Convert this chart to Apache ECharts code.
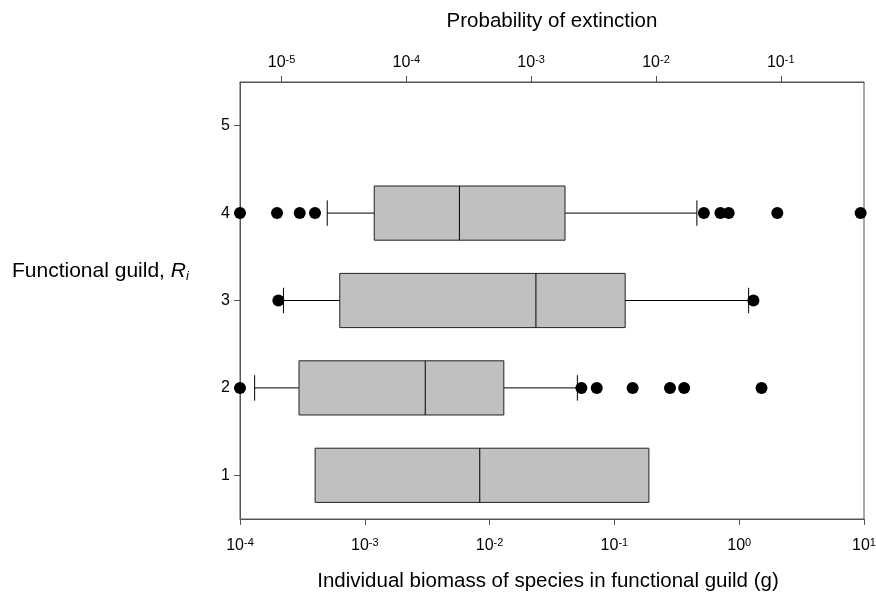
<!DOCTYPE html>
<html>
<head>
<meta charset="utf-8">
<script src="https://cdn.jsdelivr.net/npm/echarts@6/dist/echarts.min.js"></script>
<style>
  html, body { margin: 0; padding: 0; background: #fff; }
  #chart { width: 876px; height: 592px; }
</style>
</head>
<body>
<div id="chart"></div>
<script>
// guild categories on the y axis (bottom to top)
const guilds = ['1', '2', '3', '4', '5'];

// box statistics per guild (guild 5 has no data), biomass in g
const boxGuild    = [0, 1, 2, 3];
const whiskerLow  = [4.0e-4, 1.31e-4, 2.23e-4, 5.0e-4];
const quart1      = [4.0e-4, 2.97e-4, 6.3e-4, 1.19e-3];
const medians     = [8.34e-3, 3.05e-3, 0.0235, 5.73e-3];
const quart3      = [0.189, 0.0130, 0.122, 0.0402];
const whiskerHigh = [0.189, 0.0505, 1.19, 0.458];

// outliers per guild
const outliers2 = [1.0e-4, 0.0544, 0.0722, 0.140, 0.279, 0.362, 1.51];
const outliers3 = [2.03e-4, 1.30];
const outliers4 = [1.0e-4, 1.98e-4, 3.01e-4, 3.99e-4, 0.521, 0.707, 0.824, 2.02, 9.4];

// axis ticks
const biomassTicks = [1e-4, 1e-3, 1e-2, 1e-1, 1, 10];
const probTicks = [1e-5, 1e-4, 1e-3, 1e-2, 1e-1];
const probMin = 4.645e-6;
const probMax = 0.4645;

const FONT = 'Liberation Sans, Arial, sans-serif';
const LINE = '#555';

const boxData = boxGuild.map((g, i) => [g, whiskerLow[i], quart1[i], medians[i], quart3[i], whiskerHigh[i]]);
const outlierData = [];
outliers2.forEach(v => outlierData.push([v, 1]));
outliers3.forEach(v => outlierData.push([v, 2]));
outliers4.forEach(v => outlierData.push([v, 3]));

function powLabel(v) {
    const e = Math.round(Math.log10(v));
    return '{b|10}{s|' + e + '}';
}
const powRich = {
    b: { fontSize: 16, fontFamily: FONT, color: '#000', lineHeight: 18 },
    s: { fontSize: 11, fontFamily: FONT, color: '#000', lineHeight: 11, verticalAlign: 'top' }
};

function renderBox(params, api) {
    const cat = api.value(0);
    const lo = api.value(1), q1 = api.value(2), md = api.value(3), q3 = api.value(4), hi = api.value(5);
    const pLo = api.coord([lo, cat]);
    const pQ1 = api.coord([q1, cat]);
    const pMd = api.coord([md, cat]);
    const pQ3 = api.coord([q3, cat]);
    const pHi = api.coord([hi, cat]);
    const band = Math.abs(api.coord([q1, 0])[1] - api.coord([q1, 1])[1]);
    const bh = band * 0.62;
    const ch = bh * 0.47;
    const y = pQ1[1];
    const lineStyle = { stroke: '#000', lineWidth: 1 };
    const children = [];
    if (pLo[0] < pQ1[0]) {
        children.push({ type: 'line', shape: { x1: pLo[0], y1: y, x2: pQ1[0], y2: y }, style: lineStyle });
        children.push({ type: 'line', shape: { x1: pLo[0], y1: y - ch / 2, x2: pLo[0], y2: y + ch / 2 }, style: lineStyle });
    }
    if (pHi[0] > pQ3[0]) {
        children.push({ type: 'line', shape: { x1: pQ3[0], y1: y, x2: pHi[0], y2: y }, style: lineStyle });
        children.push({ type: 'line', shape: { x1: pHi[0], y1: y - ch / 2, x2: pHi[0], y2: y + ch / 2 }, style: lineStyle });
    }
    children.push({
        type: 'rect',
        shape: { x: pQ1[0], y: y - bh / 2, width: pQ3[0] - pQ1[0], height: bh },
        style: { fill: '#c0c0c0', stroke: '#222', lineWidth: 1 }
    });
    children.push({ type: 'line', shape: { x1: pMd[0], y1: y - bh / 2, x2: pMd[0], y2: y + bh / 2 }, style: lineStyle });
    return { type: 'group', children: children };
}

const chart = echarts.init(document.getElementById('chart'), null, { renderer: 'canvas' });
chart.setOption({
    animation: false,
    backgroundColor: '#fff',
    grid: {
        left: 240, right: 12, top: 82, bottom: 73,
        outerBoundsMode: 'none',
        show: true, borderColor: LINE, borderWidth: 1, backgroundColor: 'transparent'
    },
    xAxis: [{
        type: 'log',
        logBase: 10,
        min: 1e-4,
        max: 10,
        position: 'bottom',
        axisLine: { show: true, lineStyle: { color: LINE } },
        axisTick: { show: true, length: 6, lineStyle: { color: LINE }, customValues: biomassTicks },
        axisLabel: { margin: 18, formatter: powLabel, rich: powRich, customValues: biomassTicks, showMinLabel: true, showMaxLabel: true },
        splitLine: { show: false },
        minorTick: { show: false }
    }, {
        type: 'log',
        logBase: 10,
        min: probMin,
        max: probMax,
        position: 'top',
        axisLine: { show: true, lineStyle: { color: LINE } },
        axisTick: { show: true, length: 6, lineStyle: { color: LINE }, customValues: probTicks },
        axisLabel: { margin: 10, formatter: powLabel, rich: powRich, customValues: probTicks },
        splitLine: { show: false }
    }],
    yAxis: {
        type: 'category',
        data: guilds,
        boundaryGap: true,
        axisLine: { show: true, lineStyle: { color: LINE } },
        axisTick: { show: true, alignWithLabel: true, length: 6, lineStyle: { color: LINE } },
        axisLabel: { fontSize: 16, fontFamily: FONT, color: '#000', margin: 10 },
        splitLine: { show: false }
    },
    graphic: [{
        type: 'text',
        x: 552, y: 21,
        style: { text: 'Probability of extinction', font: '20.5px ' + FONT, fill: '#000', textAlign: 'center', textVerticalAlign: 'middle' }
    }, {
        type: 'text',
        x: 548, y: 581,
        style: { text: 'Individual biomass of species in functional guild (g)', font: '20.5px ' + FONT, fill: '#000', textAlign: 'center', textVerticalAlign: 'middle' }
    }, {
        type: 'text',
        x: 12, y: 271,
        style: {
            text: '{n|Functional guild, }{r|R}{i|i}',
            textAlign: 'left',
            textVerticalAlign: 'middle',
            rich: {
                n: { fontSize: 21, fontFamily: FONT, fill: '#000', lineHeight: 24 },
                r: { fontSize: 21, fontFamily: FONT, fontStyle: 'italic', fill: '#000', lineHeight: 24 },
                i: { fontSize: 13, fontFamily: FONT, fontStyle: 'italic', fill: '#000', lineHeight: 13, verticalAlign: 'bottom' }
            }
        }
    }],
    series: [{
        type: 'custom',
        xAxisIndex: 0,
        renderItem: renderBox,
        encode: { x: [1, 2, 3, 4, 5], y: 0 },
        data: boxData,
        z: 2
    }, {
        type: 'scatter',
        xAxisIndex: 0,
        symbol: 'circle',
        symbolSize: 12,
        itemStyle: { color: '#000', opacity: 1 },
        data: outlierData,
        z: 3
    }]
});
</script>
</body>
</html>
